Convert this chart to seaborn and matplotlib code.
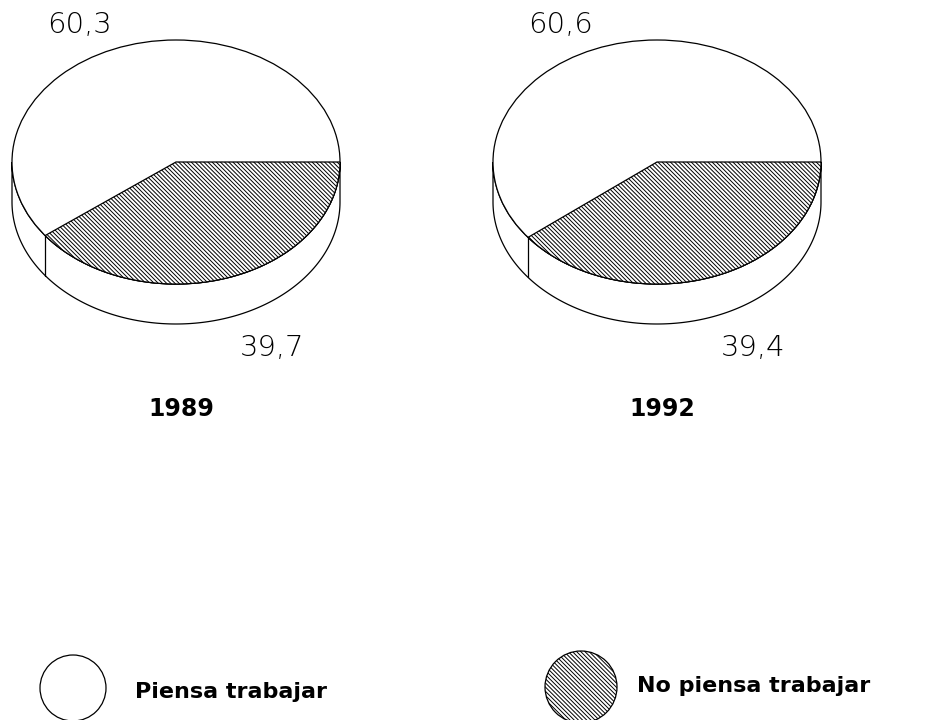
import numpy as np
import pandas as pd
import matplotlib.pyplot as plt
from matplotlib.patches import Polygon, Ellipse, Circle
import seaborn as sns

# data
years = ["1989", "1992"]
piensa = [60.3, 60.6]
no_piensa = [39.7, 39.4]
categories = ["Piensa trabajar", "No piensa trabajar"]

df = pd.DataFrame({"year": years, "piensa": piensa, "no_piensa": no_piensa})

sns.set_theme(style="white")
plt.rcParams["font.family"] = ["DejaVu Sans"]
plt.rcParams["hatch.linewidth"] = 0.7
HATCH = "\\" * 8

fig = plt.figure(figsize=(9.33, 7.2), dpi=100)
ax = fig.add_axes([0, 0, 1, 1])
ax.set_xlim(0, 933)
ax.set_ylim(720, 0)
ax.axis("off")

centers = [176, 657]
cy, a, b, depth = 162, 164, 122, 40
lw = 0.9


def fmt(v):
    return f"{v:.1f}".replace(".", ",")


for cx, (_, row) in zip(centers, df.iterrows()):
    # side wall (front half of the cylinder)
    t = np.linspace(0, np.pi, 200)
    top = np.c_[cx + a * np.cos(t), cy + b * np.sin(t)]
    bot = top[::-1] + [0, depth]
    ax.add_patch(Polygon(np.r_[top, bot], closed=True, fc="white", ec="black", lw=lw))
    # top face
    ax.add_patch(Ellipse((cx, cy), 2 * a, 2 * b, fc="white", ec="black", lw=lw))
    # hatched slice, from 3 o'clock going down
    theta = row["no_piensa"] / 100 * 2 * np.pi
    ts = np.linspace(0, theta, 200)
    arc = np.c_[cx + a * np.cos(ts), cy + b * np.sin(ts)]
    ax.add_patch(Polygon(np.r_[[[cx, cy]], arc], closed=True, fc="white",
                         ec="black", lw=lw, hatch=HATCH))
    # edge of the slice on the side wall
    x0, y0 = arc[-1]
    ax.plot([x0, x0], [y0, y0 + depth], color="black", lw=lw)

    ax.text(cx - 129, 25, fmt(row["piensa"]), fontsize=21, fontweight="light",
            ha="left", va="center", color="black")
    ax.text(cx + 64, 348, fmt(row["no_piensa"]), fontsize=21, fontweight="light",
            ha="left", va="center", color="black")
    ax.text(cx - 28, 409, row["year"], fontsize=17, fontweight="bold",
            ha="left", va="center", color="black")

# legend
ax.add_patch(Circle((73, 688), 33, fc="white", ec="black", lw=lw))
ax.text(135, 692, categories[0], fontsize=16, fontweight="bold", ha="left",
        va="center", color="black")
ax.add_patch(Circle((581, 687), 36, fc="white", ec="black", lw=lw, hatch=HATCH))
ax.text(637, 686, categories[1], fontsize=16, fontweight="bold", ha="left",
        va="center", color="black")

fig.savefig("out.png", dpi=100, facecolor="white")
